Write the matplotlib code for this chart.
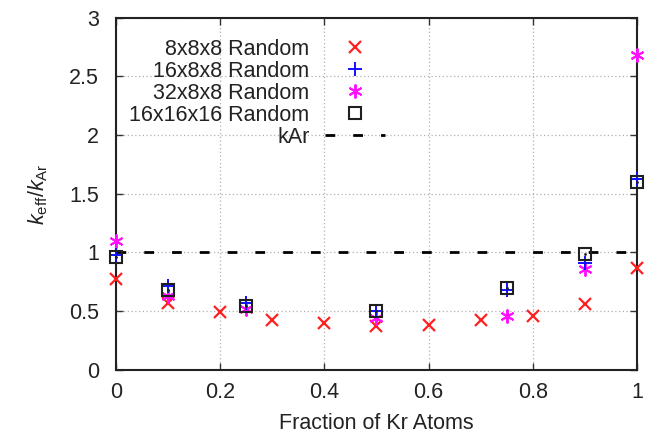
import matplotlib
matplotlib.use("Agg")
import matplotlib.pyplot as plt

plt.rcParams['font.family'] = ['Liberation Sans', 'DejaVu Sans']
plt.rcParams['mathtext.fontset'] = 'custom'
plt.rcParams['mathtext.rm'] = 'Liberation Sans'
plt.rcParams['mathtext.it'] = 'Liberation Sans:italic'

# data
x_8 = [0, 0.1, 0.2, 0.3, 0.4, 0.5, 0.6, 0.7, 0.8, 0.9, 1.0]
y_8 = [0.77, 0.57, 0.49, 0.42, 0.40, 0.37, 0.38, 0.42, 0.46, 0.56, 0.87]

x_16 = [0, 0.1, 0.25, 0.5, 0.75, 0.9, 1.0]
y_16 = [0.98, 0.71, 0.57, 0.50, 0.68, 0.91, 1.63]

x_32 = [0, 0.1, 0.25, 0.5, 0.75, 0.9, 1.0]
y_32 = [1.10, 0.63, 0.52, 0.44, 0.46, 0.86, 2.68]

x_big = [0, 0.1, 0.25, 0.5, 0.75, 0.9, 1.0]
y_big = [0.96, 0.68, 0.54, 0.50, 0.70, 0.99, 1.60]

k_ar = 1.0

xticks = [0, 0.2, 0.4, 0.6, 0.8, 1]
xlabels = ["0", "0.2", "0.4", "0.6", "0.8", "1"]
yticks = [0, 0.5, 1, 1.5, 2, 2.5, 3]
ylabels = ["0", "0.5", "1", "1.5", "2", "2.5", "3"]

fs = 15.5

fig = plt.figure(figsize=(6.54, 4.34), dpi=100)
ax = fig.add_axes([0.177, 0.148, 0.797, 0.811])

ax.plot([0, 1], [k_ar, k_ar], color="black", lw=2.0, ls=(0, (3.5, 6.5)),
        label="kAr", zorder=2)
ax.plot(x_8, y_8, ls="none", marker="x", ms=9, mew=1.6, color="#ff2020",
        label="8x8x8 Random", zorder=3, clip_on=False)
ax.plot(x_16, y_16, ls="none", marker="+", ms=10, mew=1.4, color="#1010ff",
        label="16x8x8 Random", zorder=4, clip_on=False)
ax.plot(x_32, y_32, ls="none", marker=(6, 2, 0), ms=10, mew=1.4,
        color="#ff10ff", label="32x8x8 Random", zorder=3, clip_on=False)
ax.plot(x_big, y_big, ls="none", marker="s", ms=9, mew=1.5,
        mfc="none", color="#202020", label="16x16x16 Random",
        zorder=5, clip_on=False)
ax.plot(x_big, y_big, ls="none", marker=".", ms=2, color="#202020",
        zorder=5, clip_on=False)

ax.set_xlim(0, 1)
ax.set_ylim(0, 3)
ax.set_xticks(xticks)
ax.set_xticklabels(xlabels)
ax.set_yticks(yticks)
ax.set_yticklabels(ylabels)
ax.tick_params(direction="in", top=True, right=True, labelsize=fs,
               length=5, width=1, colors="#333333", labelcolor="#222222")
ax.tick_params(axis="x", pad=9)
ax.tick_params(axis="y", pad=12)
ax.grid(True, ls=(0, (1, 2)), color="#b0b0b0", lw=0.9)
for s in ax.spines.values():
    s.set_linewidth(1.5)
    s.set_color("#222222")

ax.set_xlabel("Fraction of Kr Atoms", fontsize=fs, color="#222222", labelpad=7)
ax.set_ylabel(r"$k_{\rm eff}/k_{\rm Ar}$", fontsize=fs, color="#222222",
              labelpad=14)

handles, labels = ax.get_legend_handles_labels()
order = [1, 2, 3, 4, 0]
leg = ax.legend([handles[i] for i in order], [labels[i] for i in order],
                loc="upper right", bbox_to_anchor=(0.533, 0.965),
                frameon=False, markerfirst=False, fontsize=fs,
                handlelength=2.8, handletextpad=0.7, labelspacing=0.05,
                borderaxespad=0)
for t in leg.get_texts():
    t.set_color("#222222")

fig.savefig("out.png", dpi=100)
